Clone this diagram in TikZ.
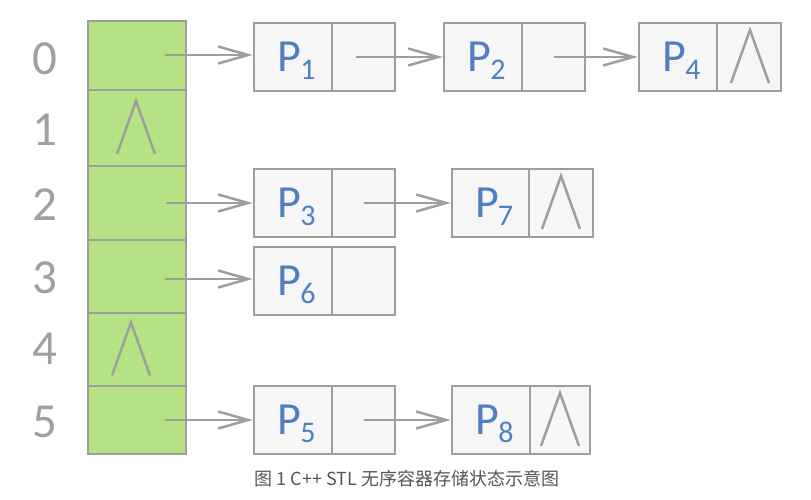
\documentclass[tikz,border=0pt]{standalone}
\usepackage{fontspec}
\setmainfont{Carlito}
\newfontfamily\cjk{Noto Sans CJK SC}
\usetikzlibrary{arrows.meta}
\definecolor{lg}{HTML}{9E9E9E}
\definecolor{grn}{HTML}{B5E384}
\definecolor{boxf}{HTML}{F6F6F6}
\definecolor{pblue}{HTML}{4F7FC0}
\definecolor{idxc}{HTML}{A0A0A0}
\definecolor{capc}{HTML}{555555}
\newcommand\plab[1]{\hspace*{7pt}P\kern-1pt\raisebox{-8pt}{\fontsize{30}{30}\selectfont #1}}
\newcommand\lamsym[2]{\draw[nulline] ([shift={(#2-19,26)}]#1.center) -- ++(19,-53) -- ++(19,53);}
\begin{document}
\begin{tikzpicture}[x=1pt,y=-1pt,line width=2.5pt,
  cell/.style={draw=lg, fill=grn, minimum width=98pt, inner sep=0pt},
  dat/.style={draw=lg, fill=boxf, minimum width=78pt, minimum height=68pt, inner sep=0pt, text=pblue, font=\fontsize{46}{46}\selectfont, text depth=0pt},
  nxt/.style={draw=lg, fill=boxf, minimum width=63pt, minimum height=68pt, inner sep=0pt},
  idx/.style={text=idxc, font=\fontsize{49}{49}\selectfont, text depth=0pt, inner sep=0pt},
  arr/.style={draw=lg, -{Straight Barb[length=30pt,width=17pt]}},
  nulline/.style={draw=lg}]
\useasboundingbox (0,0) rectangle (811,500);

% bucket column
\node[cell, minimum height=69pt] (b0) at (137,55.5) {};
\node[cell, minimum height=76pt] (b1) at (137,128) {};
\node[cell, minimum height=74pt] (b2) at (137,203) {};
\node[cell, minimum height=73pt] (b3) at (137,276.5) {};
\node[cell, minimum height=73pt] (b4) at (137,349.5) {};
\node[cell, minimum height=68pt] (b5) at (137,420) {};

% indices
\node[idx] (i0) at (45,58.5) {0};
\node[idx] (i1) at (45,130) {1};
\node[idx] (i2) at (45,204.5) {2};
\node[idx] (i3) at (45,278) {3};
\node[idx] (i4) at (45,348.5) {4};
\node[idx] (i5) at (45,421.5) {5};

% row 0
\node[dat] (p1) at (293,57) {\plab{1}};
\node[nxt] (n1) at (363.5,57) {};
\node[dat] (p2) at (483,57) {\plab{2}};
\node[nxt] (n2) at (553.5,57) {};
\node[dat] (p4) at (678,57) {\plab{4}};
\node[nxt, minimum width=64pt] (n4) at (749,57) {};
% row 2
\node[dat] (p3) at (293,203) {\plab{3}};
\node[nxt] (n3) at (363.5,203) {};
\node[dat, minimum width=77pt] (p7) at (490.5,203) {\plab{7}};
\node[nxt, minimum width=64pt] (n7) at (561,203) {};
% row 3
\node[dat] (p6) at (293,281) {\plab{6}};
\node[nxt] (n6) at (363.5,281) {};
% row 5
\node[dat] (p5) at (293,420) {\plab{5}};
\node[nxt] (n5) at (363.5,420) {};
\node[dat] (p8) at (491,420) {\plab{8}};
\node[nxt, minimum width=60pt] (n8) at (560,420) {};

% null markers
\lamsym{b1}{-1}
\lamsym{b4}{-6}
\lamsym{n4}{1}
\lamsym{n7}{0}
\lamsym{n8}{0}

% start points in buckets
\coordinate (s0) at (165,55);
\coordinate (s2) at (166,203);
\coordinate (s3) at (165,279);
\coordinate (s5) at (165,420);

\draw[arr] (s0) -- (s0 -| p1.west);
\draw[arr] (s2) -- (s2 -| p3.west);
\draw[arr] (s3) -- (s3 -| p6.west);
\draw[arr] (s5) -- (s5 -| p5.west);

\draw[arr] ([xshift=-8pt]n1.center) -- (p2.west);
\draw[arr] (n2.center) -- (p4.west);
\draw[arr] (n3.center) -- (p7.west);
\draw[arr] (n5.center) -- (p8.west);

% caption
\node[font=\cjk\fontsize{18}{18}\selectfont, text=capc, inner sep=0pt] (cap) at (407,479) {图 1 C++ STL 无序容器存储状态示意图};
\end{tikzpicture}
\end{document}
